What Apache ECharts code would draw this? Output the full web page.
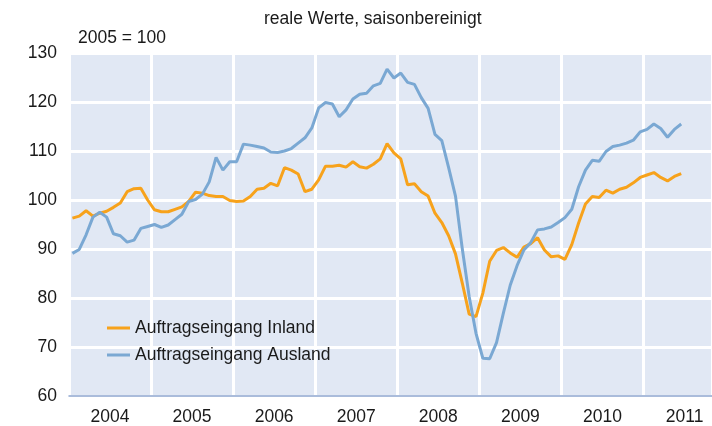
<!DOCTYPE html>
<html>
<head>
<meta charset="utf-8">
<script src="https://cdn.jsdelivr.net/npm/echarts@6/dist/echarts.min.js"></script>
<style>
  html, body { margin: 0; padding: 0; background: #fff; }
  #chart { width: 712px; height: 426px; }
</style>
</head>
<body>
<div id="chart"></div>
<script>
// Jahre der x-Achse (Monatsdaten, Jan 2004 bis Jun 2011)
var years = ['2004', '2005', '2006', '2007', '2008', '2009', '2010', '2011'];

// Auftragseingang, 2005 = 100
var inland = [
  96.3, 96.7, 97.8, 96.7, 97.3, 97.7, 98.5, 99.4, 101.7, 102.3, 102.4, 100.0,
  98.0, 97.6, 97.6, 98.1, 98.6, 99.7, 101.6, 101.4, 100.9, 100.7, 100.7, 99.9,
  99.7, 99.8, 100.7, 102.2, 102.4, 103.4, 102.9, 106.6, 106.1, 105.3, 101.7, 102.2,
  104.1, 106.9, 106.9, 107.1, 106.7, 107.8, 106.8, 106.5, 107.3, 108.4, 111.5, 109.6,
  108.4, 103.1, 103.3, 101.7, 100.8, 97.3, 95.4, 92.7, 89.0, 83.0, 76.7, 76.2,
  81.0, 87.5, 89.7, 90.3, 89.2, 88.3, 90.4, 91.1, 92.3, 89.8, 88.4, 88.6,
  87.9, 90.9, 95.3, 99.2, 100.7, 100.5, 102.0, 101.4, 102.2, 102.6, 103.5, 104.6,
  105.1, 105.6, 104.6, 103.9, 104.8, 105.4
];
var ausland = [
  89.1, 89.9, 92.9, 96.5, 97.5, 96.5, 93.1, 92.7, 91.4, 91.8, 94.2, 94.6,
  95.0, 94.4, 94.9, 96.0, 97.1, 99.7, 100.1, 101.2, 103.7, 108.7, 106.1, 107.8,
  107.8, 111.4, 111.2, 110.9, 110.6, 109.8, 109.7, 110.0, 110.5, 111.6, 112.7, 114.7,
  118.8, 119.9, 119.6, 117.0, 118.4, 120.6, 121.6, 121.8, 123.3, 123.8, 126.7, 124.9,
  125.9, 124.0, 123.6, 120.9, 118.7, 113.4, 112.1, 106.6, 100.8, 90.0, 80.3, 72.8,
  67.7, 67.6, 70.9, 76.9, 82.6, 86.6, 89.8, 91.3, 93.9, 94.1, 94.5, 95.4,
  96.4, 98.1, 102.7, 106.1, 108.1, 107.9, 109.9, 110.9, 111.2, 111.6, 112.2, 113.9,
  114.4, 115.5, 114.6, 112.8, 114.4, 115.5
];

// 12 Monate je Jahr als Kategorien; das Bild ist rechts im Okt 2011 abgeschnitten
var months = [];
years.forEach(function (y) {
  for (var m = 1; m <= 12; m++) months.push(y + '-' + m);
});
months = months.slice(0, 94);

var chart = echarts.init(document.getElementById('chart'), null, { renderer: 'canvas' });

var axisColor = '#8ea6cf';
var font = 'Liberation Sans, Arial, sans-serif';
var fs = 17.5;

chart.setOption({
  animation: false,
  title: [
    { text: 'reale Werte, saisonbereinigt', left: 259, top: 5,
      textStyle: { fontSize: fs, fontWeight: 'normal', color: '#1a1a1a', fontFamily: font } },
    { text: '2005 = 100', left: 73, top: 24,
      textStyle: { fontSize: fs, fontWeight: 'normal', color: '#1a1a1a', fontFamily: font } }
  ],
  legend: {
    orient: 'vertical',
    left: 102,
    top: 314,
    icon: 'rect',
    itemWidth: 23,
    itemHeight: 3,
    itemGap: 9,
    textStyle: { fontSize: fs, color: '#1a1a1a', fontFamily: font }
  },
  grid: {
    left: 69, top: 53, bottom: 30, right: 0,
    show: true, backgroundColor: '#e1e8f4', borderWidth: 0
  },
  xAxis: {
    type: 'category',
    data: months,
    boundaryGap: true,
    axisLine: { lineStyle: { color: axisColor, width: 1.5 } },
    axisTick: {
      length: 5,
      lineStyle: { color: axisColor, width: 1 },
      interval: function (i) { return i % 12 === 0; }
    },
    splitLine: {
      show: true,
      interval: function (i) { return i % 12 === 0; },
      lineStyle: { color: '#ffffff', width: 3 }
    },
    axisLabel: {
      interval: function (i) { return i % 12 === 6; },
      formatter: function (v) { return v.slice(0, 4); },
      padding: [0, 7, 0, 0],
      margin: 12,
      fontSize: fs,
      color: '#1a1a1a',
      fontFamily: font
    }
  },
  yAxis: {
    type: 'value',
    min: 60, max: 130, interval: 10,
    axisLine: { show: false },
    axisTick: { show: false },
    splitLine: { lineStyle: { color: '#ffffff', width: 3 } },
    axisLabel: { fontSize: fs, color: '#1a1a1a', margin: 12, fontFamily: font }
  },
  series: [
    { name: 'Auftragseingang Inland', type: 'line', data: inland, symbol: 'none',
      lineStyle: { color: '#f7a21b', width: 3 }, itemStyle: { color: '#f7a21b' } },
    { name: 'Auftragseingang Ausland', type: 'line', data: ausland, symbol: 'none',
      lineStyle: { color: '#7aa8d3', width: 3 }, itemStyle: { color: '#7aa8d3' } }
  ]
});
</script>
</body>
</html>
